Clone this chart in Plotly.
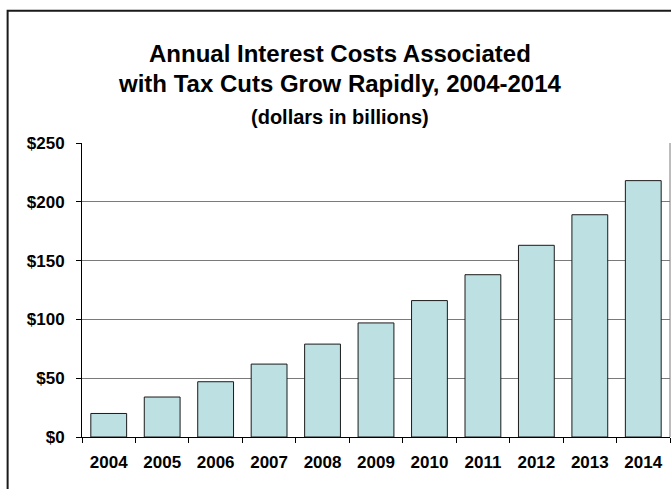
import plotly.graph_objects as go

# Annual interest costs tied to the tax cuts, in billions of dollars
years = ["2004", "2005", "2006", "2007", "2008", "2009",
         "2010", "2011", "2012", "2013", "2014"]
interest_costs = [20, 34, 47, 62, 79, 97, 116, 138, 163, 189, 218]
y_ticks = [0, 50, 100, 150, 200, 250]
y_tick_text = ["$0", "$50", "$100", "$150", "$200", "$250"]

title_lines = [
    "Annual Interest Costs Associated",
    "with Tax Cuts Grow Rapidly, 2004-2014",
    "(dollars in billions)",
]

FONT = "Liberation Sans, Arial, sans-serif"

fig = go.Figure(
    go.Bar(
        x=years,
        y=interest_costs,
        marker=dict(color="#BDE0E3", line=dict(color="#1a1a1a", width=1)),
        hoverinfo="x+y",
    )
)

fig.update_layout(
    width=671,
    height=489,
    margin=dict(l=82, r=1, t=143, b=52),
    paper_bgcolor="white",
    plot_bgcolor="white",
    bargap=0.33,
    showlegend=False,
    font=dict(family=FONT, color="black"),
)

fig.update_xaxes(
    type="category",
    showline=True,
    linecolor="black",
    linewidth=1,
    ticks="outside",
    tickson="boundaries",
    ticklen=5,
    tickcolor="black",
    ticklabelstandoff=10,
    tickfont=dict(family=FONT, size=17, weight="bold", color="black"),
    showgrid=False,
    mirror=False,
)

fig.update_yaxes(
    range=[0, 250],
    tickvals=y_ticks,
    ticktext=y_tick_text,
    showline=True,
    linecolor="black",
    linewidth=1,
    ticks="outside",
    ticklen=5,
    tickcolor="black",
    ticklabelstandoff=8,
    tickfont=dict(family=FONT, size=17, weight="bold", color="black"),
    showgrid=True,
    gridcolor="#7a7a7a",
    gridwidth=1,
    zeroline=False,
)

# Right edge of the plot frame
fig.add_shape(type="line", xref="paper", yref="paper",
              x0=1, x1=1, y0=0, y1=1,
              line=dict(color="#7a7a7a", width=1))

# Outer chart border
fig.add_shape(type="rect", xref="paper", yref="paper",
              x0=-0.1265, x1=1.2, y0=-0.4, y1=1.45,
              line=dict(color="#1a1a1a", width=2), layer="below")

title_y = [1.306, 1.202, 1.088]
title_sizes = [24, 24, 20]
for text, y, size in zip(title_lines, title_y, title_sizes):
    fig.add_annotation(
        text=text, xref="paper", yref="paper",
        x=(340 - 82) / 589, y=y, xanchor="center", yanchor="middle",
        showarrow=False,
        font=dict(family=FONT, size=size, weight="bold", color="black"),
    )

fig.write_html("out.html")
